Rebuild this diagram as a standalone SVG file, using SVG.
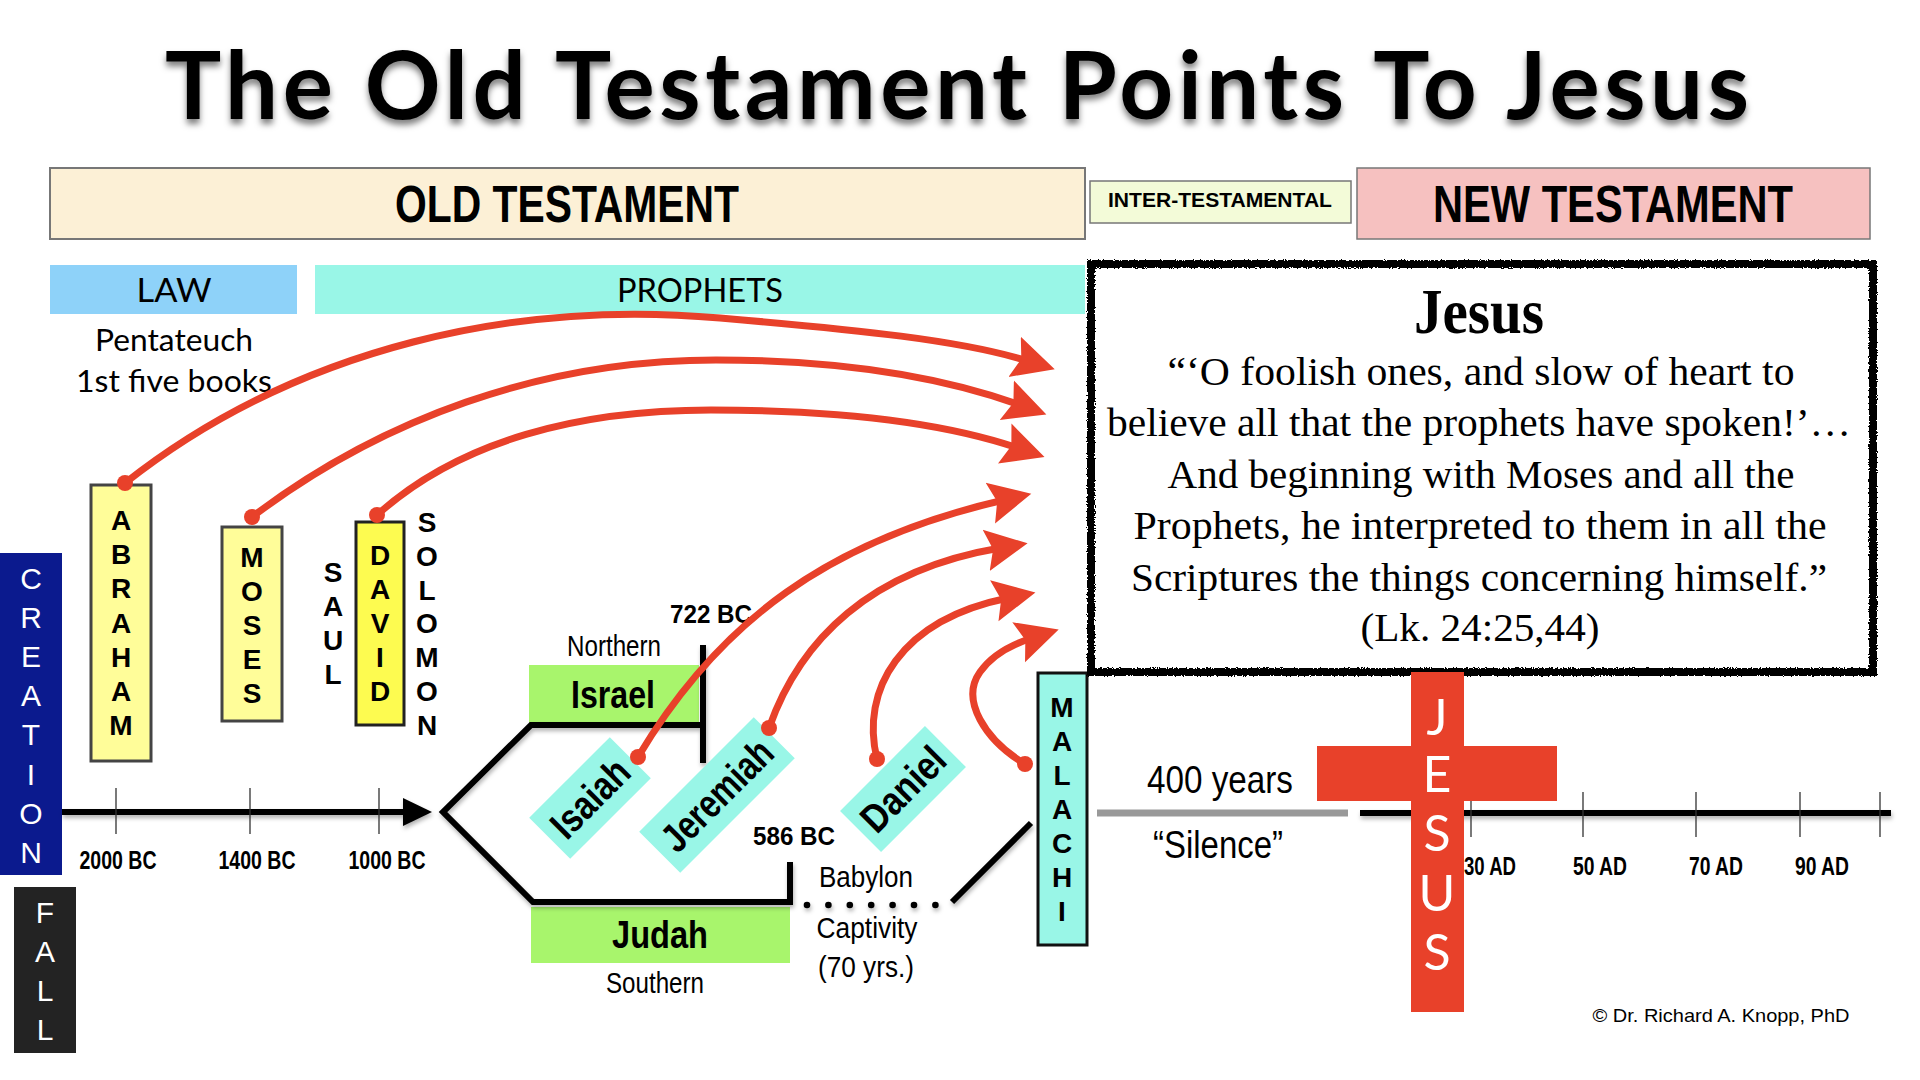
<svg xmlns="http://www.w3.org/2000/svg" width="1920" height="1080" viewBox="0 0 1920 1080">
<defs>
<style>
.b{font-family:"Liberation Sans",Arial,sans-serif;font-weight:700;fill:#000}
.r{font-family:"Liberation Sans",Arial,sans-serif;fill:#000}
.g{font-family:Lato,"Liberation Sans",sans-serif;fill:#000}
.vl{font-family:"Liberation Sans",Arial,sans-serif;font-weight:700;font-size:28px;text-anchor:middle;fill:#000}
.vw{font-family:"Liberation Sans",Arial,sans-serif;font-size:30px;text-anchor:middle;fill:#fff}
.red{fill:none;stroke:#e8412a;stroke-width:7;stroke-linecap:round;marker-end:url(#ah)}
.dot{fill:#e8412a}
.blk{fill:none;stroke:#000;stroke-width:6}
.tick{stroke:#333;stroke-width:1.3}
.q{font-family:"Liberation Serif","Times New Roman",serif;font-size:40px;text-anchor:middle;fill:#000}
.qh{font-family:"Liberation Serif","Times New Roman",serif;font-size:64px;font-weight:700;text-anchor:middle;fill:#000}
.mid{text-anchor:middle}
.pb{fill:#99f6e7}
</style>
<marker id="ah" markerUnits="userSpaceOnUse" viewBox="0 -25 50 50" refX="14" refY="0" markerWidth="50" markerHeight="50" orient="auto">
<path d="M0,-21 L42,0 L0,21 L7,0 Z" fill="#e8412a"/>
</marker>
<filter id="sh" filterUnits="userSpaceOnUse" x="0" y="0" width="1920" height="1080">
<feDropShadow dx="1" dy="3" stdDeviation="2" flood-color="#000" flood-opacity="0.3"/>
</filter>
<filter id="tsh" x="-5%" y="-20%" width="110%" height="150%">
<feDropShadow dx="0" dy="5" stdDeviation="3" flood-color="#000" flood-opacity="0.5"/>
</filter>
<filter id="rough" x="-5%" y="-5%" width="110%" height="110%">
<feTurbulence type="fractalNoise" baseFrequency="0.7" numOctaves="2" seed="4"/>
<feDisplacementMap in="SourceGraphic" scale="4" xChannelSelector="R" yChannelSelector="G"/>
</filter>
</defs>
<rect width="1920" height="1080" fill="#fff"/>

<g id="title">
<text x="957" y="119" class="g mid" font-size="94" font-weight="700" textLength="1584" lengthAdjust="spacing" filter="url(#tsh)">The Old Testament Points To Jesus</text>
</g>

<g id="old-testament">
<rect x="50" y="168" width="1035" height="71" fill="#fcf0d6" stroke="#777" stroke-width="2"/>
<text x="567" y="222" class="b mid" font-size="51" textLength="344" lengthAdjust="spacingAndGlyphs">OLD TESTAMENT</text>
</g>
<g id="inter-testamental">
<rect x="1090" y="181" width="261" height="42" fill="#f3fbd8" stroke="#777" stroke-width="1.5"/>
<text x="1220" y="207" class="b mid" font-size="20" textLength="224" lengthAdjust="spacingAndGlyphs">INTER-TESTAMENTAL</text>
</g>
<g id="new-testament">
<rect x="1357" y="168" width="513" height="71" fill="#f6c1c0" stroke="#777" stroke-width="1.5"/>
<text x="1613" y="222" class="b mid" font-size="51" textLength="360" lengthAdjust="spacingAndGlyphs">NEW TESTAMENT</text>
</g>

<g id="law">
<rect x="50" y="265" width="247" height="49" fill="#8ed2f9"/>
<text x="174" y="302" class="g mid" font-size="33" textLength="75" lengthAdjust="spacingAndGlyphs">LAW</text>
<text x="174" y="351" class="g mid" font-size="31" textLength="158" lengthAdjust="spacingAndGlyphs">Pentateuch</text>
<text x="174" y="392" class="g mid" font-size="31" textLength="196" lengthAdjust="spacingAndGlyphs">1st five books</text>
</g>
<g id="prophets">
<rect x="315" y="265" width="770" height="49" fill="#99f6e7"/>
<text x="700" y="302" class="g mid" font-size="33" textLength="166" lengthAdjust="spacingAndGlyphs">PROPHETS</text>
</g>

<g id="creation">
<rect x="0" y="553" width="62" height="322" fill="#0b1a8e"/>
<text class="vw"><tspan x="31" y="589">C</tspan><tspan x="31" dy="39.1">R</tspan><tspan x="31" dy="39.1">E</tspan><tspan x="31" dy="39.1">A</tspan><tspan x="31" dy="39.1">T</tspan><tspan x="31" dy="39.1">I</tspan><tspan x="31" dy="39.1">O</tspan><tspan x="31" dy="39.1">N</tspan></text>
</g>
<g id="fall">
<rect x="14" y="887" width="62" height="166" fill="#232323"/>
<text class="vw"><tspan x="45" y="923">F</tspan><tspan x="45" dy="39">A</tspan><tspan x="45" dy="39">L</tspan><tspan x="45" dy="39">L</tspan></text>
</g>

<g id="abraham">
<rect x="91" y="485" width="60" height="276" fill="#fffd99" stroke="#444" stroke-width="3"/>
<text class="vl"><tspan x="121" y="530">A</tspan><tspan x="121" dy="34.2">B</tspan><tspan x="121" dy="34.2">R</tspan><tspan x="121" dy="34.2">A</tspan><tspan x="121" dy="34.2">H</tspan><tspan x="121" dy="34.2">A</tspan><tspan x="121" dy="34.2">M</tspan></text>
</g>
<g id="moses">
<rect x="222" y="527" width="60" height="194" fill="#fffd99" stroke="#444" stroke-width="3"/>
<text class="vl"><tspan x="252" y="567">M</tspan><tspan x="252" dy="34">O</tspan><tspan x="252" dy="34">S</tspan><tspan x="252" dy="34">E</tspan><tspan x="252" dy="34">S</tspan></text>
</g>
<g id="saul">
<text class="vl"><tspan x="333" y="582">S</tspan><tspan x="333" dy="34">A</tspan><tspan x="333" dy="34">U</tspan><tspan x="333" dy="34">L</tspan></text>
</g>
<g id="david">
<rect x="356" y="522" width="48" height="203" fill="#fdfb50" stroke="#222" stroke-width="3"/>
<text class="vl"><tspan x="380" y="565">D</tspan><tspan x="380" dy="34">A</tspan><tspan x="380" dy="34">V</tspan><tspan x="380" dy="34">I</tspan><tspan x="380" dy="34">D</tspan></text>
</g>
<g id="solomon">
<text class="vl"><tspan x="427" y="532">S</tspan><tspan x="427" dy="33.8">O</tspan><tspan x="427" dy="33.8">L</tspan><tspan x="427" dy="33.8">O</tspan><tspan x="427" dy="33.8">M</tspan><tspan x="427" dy="33.8">O</tspan><tspan x="427" dy="33.8">N</tspan></text>
</g>

<g id="timeline-bc">
<g filter="url(#sh)">
<path d="M62,812 L408,812" stroke="#000" stroke-width="6"/>
<path d="M403,798 L432,812 L403,826 Z" fill="#000"/>
</g>
<path class="tick" d="M116,788 V834 M250,788 V834 M379,788 V834"/>
<text x="118" y="869" class="b mid" font-size="25" textLength="77" lengthAdjust="spacingAndGlyphs">2000 BC</text>
<text x="257" y="869" class="b mid" font-size="25" textLength="77" lengthAdjust="spacingAndGlyphs">1400 BC</text>
<text x="387" y="869" class="b mid" font-size="25" textLength="77" lengthAdjust="spacingAndGlyphs">1000 BC</text>
</g>

<g id="israel">
<rect x="529" y="665" width="170" height="58" fill="#a8f56c"/>
<text x="613" y="708" class="b mid" font-size="38" textLength="84" lengthAdjust="spacingAndGlyphs">Israel</text>
<text x="614" y="656" class="r mid" font-size="29" textLength="94" lengthAdjust="spacingAndGlyphs">Northern</text>
<text x="711" y="623" class="b mid" font-size="25" textLength="82" lengthAdjust="spacingAndGlyphs">722 BC</text>
</g>
<g id="judah">
<rect x="531" y="907" width="259" height="56" fill="#a8f56c"/>
<text x="660" y="948" class="b mid" font-size="38" textLength="96" lengthAdjust="spacingAndGlyphs">Judah</text>
<text x="655" y="993" class="r mid" font-size="29" textLength="98" lengthAdjust="spacingAndGlyphs">Southern</text>
<text x="794" y="845" class="b mid" font-size="25" textLength="82" lengthAdjust="spacingAndGlyphs">586 BC</text>
</g>
<g id="babylon">
<text x="866" y="887" class="r mid" font-size="29" textLength="94" lengthAdjust="spacingAndGlyphs">Babylon</text>
<text x="867" y="938" class="r mid" font-size="29" textLength="101" lengthAdjust="spacingAndGlyphs">Captivity</text>
<text x="866" y="977" class="r mid" font-size="29" textLength="96" lengthAdjust="spacingAndGlyphs">(70 yrs.)</text>
</g>

<g id="kingdom-lines" filter="url(#sh)">
<path class="blk" d="M703,725 L531,725 L443,812 L533,902 L790,902 L790,862"/>
<path class="blk" d="M703,645 L703,763"/>
<path class="blk" d="M952,902 L1031,823"/>
<g fill="#000"><circle cx="807" cy="905" r="3.3"/><circle cx="828.4" cy="905" r="3.3"/><circle cx="849.8" cy="905" r="3.3"/><circle cx="871.2" cy="905" r="3.3"/><circle cx="892.6" cy="905" r="3.3"/><circle cx="914" cy="905" r="3.3"/><circle cx="935.4" cy="905" r="3.3"/></g>
</g>

<g id="isaiah" transform="translate(590,798) rotate(-45)">
<rect x="-57" y="-29" width="114" height="58" class="pb"/>
<text x="0" y="14" class="b mid" font-size="40" textLength="94" lengthAdjust="spacingAndGlyphs">Isaiah</text>
</g>
<g id="jeremiah" transform="translate(717,795) rotate(-45)">
<rect x="-81" y="-29" width="162" height="58" class="pb"/>
<text x="0" y="14" class="b mid" font-size="40" textLength="140" lengthAdjust="spacingAndGlyphs">Jeremiah</text>
</g>
<g id="daniel" transform="translate(903,789) rotate(-45)">
<rect x="-60" y="-29" width="120" height="58" class="pb"/>
<text x="0" y="14" class="b mid" font-size="40" textLength="102" lengthAdjust="spacingAndGlyphs">Daniel</text>
</g>

<g id="malachi">
<rect x="1038" y="673" width="49" height="272" fill="#99f6e7" stroke="#111" stroke-width="3"/>
<text class="vl"><tspan x="1062" y="717">M</tspan><tspan x="1062" dy="34">A</tspan><tspan x="1062" dy="34">L</tspan><tspan x="1062" dy="34">A</tspan><tspan x="1062" dy="34">C</tspan><tspan x="1062" dy="34">H</tspan><tspan x="1062" dy="34">I</tspan></text>
</g>

<g id="timeline-ad">
<path d="M1097,813 L1348,813" stroke="#999" stroke-width="7"/>
<path d="M1360,813 L1891,813" stroke="#000" stroke-width="6" filter="url(#sh)"/>
<path class="tick" d="M1471,792 V837 M1583,792 V837 M1696,792 V837 M1800,792 V837 M1880,792 V837"/>
<text x="1490" y="875" class="b mid" font-size="25" textLength="52" lengthAdjust="spacingAndGlyphs">30 AD</text>
<text x="1600" y="875" class="b mid" font-size="25" textLength="54" lengthAdjust="spacingAndGlyphs">50 AD</text>
<text x="1716" y="875" class="b mid" font-size="25" textLength="54" lengthAdjust="spacingAndGlyphs">70 AD</text>
<text x="1822" y="875" class="b mid" font-size="25" textLength="54" lengthAdjust="spacingAndGlyphs">90 AD</text>
<text x="1220" y="793" class="r mid" font-size="39" textLength="146" lengthAdjust="spacingAndGlyphs">400 years</text>
<text x="1218" y="858" class="r mid" font-size="39" textLength="130" lengthAdjust="spacingAndGlyphs">“Silence”</text>
</g>

<g id="jesus-quote">
<rect x="1091" y="264" width="782" height="408" fill="#fff" stroke="#000" stroke-width="8" filter="url(#rough)"/>
<text x="1479" y="333" class="qh" textLength="130" lengthAdjust="spacingAndGlyphs">Jesus</text>
<text x="1481" y="385" class="q" textLength="627" lengthAdjust="spacingAndGlyphs">“‘O foolish ones, and slow of heart to</text>
<text x="1479" y="436" class="q" textLength="744" lengthAdjust="spacingAndGlyphs">believe all that the prophets have spoken!’…</text>
<text x="1481" y="488" class="q" textLength="627" lengthAdjust="spacingAndGlyphs">And beginning with Moses and all the</text>
<text x="1480" y="539" class="q" textLength="693" lengthAdjust="spacingAndGlyphs">Prophets, he interpreted to them in all the</text>
<text x="1479" y="591" class="q" textLength="696" lengthAdjust="spacingAndGlyphs">Scriptures the things concerning himself.”</text>
<text x="1480" y="641" class="q" textLength="239" lengthAdjust="spacingAndGlyphs">(Lk. 24:25,44)</text>
</g>

<g id="jesus-cross">
<rect x="1411" y="672" width="53" height="340" fill="#e8412a"/>
<rect x="1317" y="746" width="240" height="55" fill="#e8412a"/>
<g class="g" font-size="50" fill="#fff" text-anchor="middle">
<text x="1437" y="735" fill="#fff">J</text>
<text x="1437" y="792" fill="#fff">E</text>
<text x="1437" y="851" fill="#fff">S</text>
<text x="1437" y="911" fill="#fff">U</text>
<text x="1437" y="970" fill="#fff">S</text>
</g>
</g>

<g id="copyright">
<text x="1721" y="1022" class="r mid" font-size="19" textLength="257" lengthAdjust="spacingAndGlyphs">© Dr. Richard A. Knopp, PhD</text>
</g>

<g id="connectors">
<path class="red" d="M125,483 C300,345 520,300 720,318 C860,330 960,340 1028,361"/>
<path class="red" d="M252,517 C380,420 540,360 716,360 C850,360 950,380 1020,405"/>
<path class="red" d="M377,515 C460,440 580,410 711,410 C850,410 950,425 1018,448"/>
<path class="red" d="M638,757 C720,620 830,540 1004,500"/>
<path class="red" d="M769,728 C800,640 870,570 1000,548"/>
<path class="red" d="M877,759 C860,690 900,620 1008,598"/>
<path class="red" d="M1025,764 C985,740 960,700 980,672 C992,655 1010,645 1032,638"/>
<circle class="dot" cx="125" cy="483" r="8"/>
<circle class="dot" cx="252" cy="517" r="8"/>
<circle class="dot" cx="377" cy="515" r="8"/>
<circle class="dot" cx="638" cy="757" r="8"/>
<circle class="dot" cx="769" cy="728" r="8"/>
<circle class="dot" cx="877" cy="759" r="8"/>
<circle class="dot" cx="1025" cy="764" r="8"/>
</g>
</svg>
